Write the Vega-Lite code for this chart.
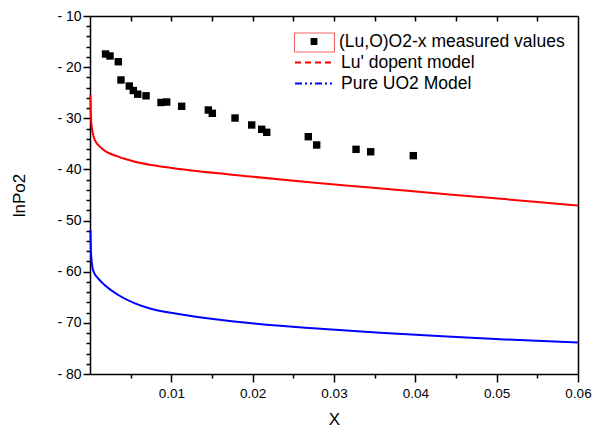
{
  "$schema": "https://vega.github.io/schema/vega-lite/v6.json",
  "width": 488,
  "height": 358,
  "autosize": {"type": "none"},
  "padding": {"left": 90, "top": 16, "right": 27, "bottom": 57},
  "config": {
    "font": "Liberation Sans",
    "view": {"stroke": null},
    "axis": {
      "grid": false,
      "domainColor": "black",
      "tickColor": "black",
      "labelColor": "black",
      "titleColor": "black",
      "domainWidth": 1.5,
      "tickWidth": 1.5,
      "labelFontSize": 13.5,
      "labelFont": "Liberation Sans",
      "titleFont": "Liberation Sans",
      "titleFontSize": 17,
      "titleFontWeight": "normal",
      "labelFlush": false,
      "labelOverlap": false
    },
    "legend": {
      "orient": "none",
      "title": null,
      "symbolSize": 1600,
      "clipHeight": 19,
      "labelLimit": 0,
      "labelFontSize": 17.5,
      "labelOffset": 5,
      "labelColor": "black",
      "labelFont": "Liberation Sans",
      "symbolOpacity": 1,
      "legendX": 204
    }
  },
  "datasets": {
    "measured": [
      {"x": 0.00191, "y": -17.43, "series": "(Lu,O)O2-x measured values", "kind": "box"},
      {"x": 0.00246, "y": -17.82, "series": "(Lu,O)O2-x measured values", "kind": "box"},
      {"x": 0.00348, "y": -18.94, "series": "(Lu,O)O2-x measured values", "kind": "box"},
      {"x": 0.00381, "y": -22.51, "series": "(Lu,O)O2-x measured values", "kind": "box"},
      {"x": 0.00483, "y": -23.69, "series": "(Lu,O)O2-x measured values", "kind": "box"},
      {"x": 0.00532, "y": -24.57, "series": "(Lu,O)O2-x measured values", "kind": "box"},
      {"x": 0.00587, "y": -25.29, "series": "(Lu,O)O2-x measured values", "kind": "box"},
      {"x": 0.00689, "y": -25.6, "series": "(Lu,O)O2-x measured values", "kind": "box"},
      {"x": 0.00873, "y": -26.91, "series": "(Lu,O)O2-x measured values", "kind": "box"},
      {"x": 0.00943, "y": -26.82, "series": "(Lu,O)O2-x measured values", "kind": "box"},
      {"x": 0.01127, "y": -27.66, "series": "(Lu,O)O2-x measured values", "kind": "box"},
      {"x": 0.01455, "y": -28.38, "series": "(Lu,O)O2-x measured values", "kind": "box"},
      {"x": 0.01504, "y": -29.03, "series": "(Lu,O)O2-x measured values", "kind": "box"},
      {"x": 0.01783, "y": -29.95, "series": "(Lu,O)O2-x measured values", "kind": "box"},
      {"x": 0.01988, "y": -31.31, "series": "(Lu,O)O2-x measured values", "kind": "box"},
      {"x": 0.02111, "y": -32.15, "series": "(Lu,O)O2-x measured values", "kind": "box"},
      {"x": 0.02173, "y": -32.74, "series": "(Lu,O)O2-x measured values", "kind": "box"},
      {"x": 0.02684, "y": -33.6, "series": "(Lu,O)O2-x measured values", "kind": "box"},
      {"x": 0.02787, "y": -35.22, "series": "(Lu,O)O2-x measured values", "kind": "box"},
      {"x": 0.03271, "y": -36.07, "series": "(Lu,O)O2-x measured values", "kind": "box"},
      {"x": 0.03451, "y": -36.55, "series": "(Lu,O)O2-x measured values", "kind": "box"},
      {"x": 0.03975, "y": -37.31, "series": "(Lu,O)O2-x measured values", "kind": "box"}
    ],
    "model": [
      {"x": 0.00006, "y": -25.45, "series": "Lu' dopent model"},
      {"x": 0.0001, "y": -29.0, "series": "Lu' dopent model"},
      {"x": 0.00021, "y": -31.65, "series": "Lu' dopent model"},
      {"x": 0.0006, "y": -34.25, "series": "Lu' dopent model"},
      {"x": 0.00144, "y": -35.87, "series": "Lu' dopent model"},
      {"x": 0.00348, "y": -37.51, "series": "Lu' dopent model"},
      {"x": 0.00553, "y": -38.49, "series": "Lu' dopent model"},
      {"x": 0.00759, "y": -39.14, "series": "Lu' dopent model"},
      {"x": 0.01127, "y": -39.98, "series": "Lu' dopent model"},
      {"x": 0.01967, "y": -41.38, "series": "Lu' dopent model"},
      {"x": 0.02668, "y": -42.46, "series": "Lu' dopent model"},
      {"x": 0.03443, "y": -43.54, "series": "Lu' dopent model"},
      {"x": 0.03971, "y": -44.28, "series": "Lu' dopent model"},
      {"x": 0.04795, "y": -45.39, "series": "Lu' dopent model"},
      {"x": 0.05779, "y": -46.76, "series": "Lu' dopent model"},
      {"x": 0.06, "y": -47.07, "series": "Lu' dopent model"},
      {"x": 0.00006, "y": -51.85, "series": "Pure UO2 Model"},
      {"x": 0.0001, "y": -55.5, "series": "Pure UO2 Model"},
      {"x": 0.00021, "y": -58.05, "series": "Pure UO2 Model"},
      {"x": 0.0004, "y": -59.8, "series": "Pure UO2 Model"},
      {"x": 0.001, "y": -61.3, "series": "Pure UO2 Model"},
      {"x": 0.0018, "y": -62.6, "series": "Pure UO2 Model"},
      {"x": 0.00348, "y": -64.55, "series": "Pure UO2 Model"},
      {"x": 0.00553, "y": -66.18, "series": "Pure UO2 Model"},
      {"x": 0.00759, "y": -67.29, "series": "Pure UO2 Model"},
      {"x": 0.01107, "y": -68.3, "series": "Pure UO2 Model"},
      {"x": 0.01512, "y": -69.25, "series": "Pure UO2 Model"},
      {"x": 0.0193, "y": -69.99, "series": "Pure UO2 Model"},
      {"x": 0.02336, "y": -70.58, "series": "Pure UO2 Model"},
      {"x": 0.02742, "y": -71.07, "series": "Pure UO2 Model"},
      {"x": 0.03566, "y": -71.95, "series": "Pure UO2 Model"},
      {"x": 0.0439, "y": -72.69, "series": "Pure UO2 Model"},
      {"x": 0.05201, "y": -73.32, "series": "Pure UO2 Model"},
      {"x": 0.06, "y": -73.86, "series": "Pure UO2 Model"}
    ]
  },
  "layer": [
    {
      "data": {"name": "measured"},
      "mark": {"type": "point", "shape": "square", "filled": true, "size": 55, "opacity": 1},
      "encoding": {
        "x": {
          "field": "x", "type": "quantitative",
          "scale": {"domain": [0, 0.06], "nice": false, "zero": false},
          "axis": {"orient": "bottom", "values": [0.01, 0.02, 0.03, 0.04, 0.05, 0.06], "format": ".2f", "tickSize": 8, "labelPadding": 4, "title": "X", "titlePadding": 12}
        },
        "y": {
          "field": "y", "type": "quantitative",
          "scale": {"domain": [-80, -10], "nice": false, "zero": false},
          "axis": {"orient": "left", "values": [-80, -70, -60, -50, -40, -30, -20, -10], "labelExpr": "'- ' + format(abs(datum.value), 'd')", "labelFontSize": 14, "tickSize": 7, "labelPadding": 2, "title": "lnPo2", "titlePadding": 28}
        },
        "color": {
          "field": "series", "type": "nominal",
          "scale": {"domain": ["(Lu,O)O2-x measured values"], "range": ["black"]},
          "legend": {"legendY": 16, "symbolType": "M-0.17,-0.17H0.17V0.17H-0.17Z", "symbolStrokeWidth": 0}
        },
        "opacity": {
          "field": "kind", "type": "ordinal",
          "scale": {"range": [1, 1]},
          "legend": {"legendY": 16, "labelExpr": "''", "symbolType": "M-1,-0.475H1V0.475H-1Z", "symbolFillColor": "transparent", "symbolStrokeColor": "#f06060", "symbolStrokeWidth": 1, "clipHeight": 21}
        }
      }
    },
    {
      "data": {"name": "model"},
      "transform": [{"filter": {"field": "series", "equal": "Lu' dopent model"}}],
      "mark": {"type": "line", "strokeWidth": 2, "interpolate": "monotone"},
      "encoding": {
        "x": {
          "field": "x", "type": "quantitative",
          "axis": {"orient": "bottom", "values": [0.005, 0.015, 0.025, 0.035, 0.045, 0.055], "tickSize": 4, "labels": false, "domain": false, "title": null}
        },
        "y": {
          "field": "y", "type": "quantitative",
          "axis": {"orient": "left", "values": [-78, -76, -74, -72, -68, -66, -64, -62, -58, -56, -54, -52, -48, -46, -44, -42, -38, -36, -34, -32, -28, -26, -24, -22, -18, -16, -14, -12], "tickSize": 4, "labels": false, "domain": false, "title": null}
        },
        "color": {
          "field": "series", "type": "nominal",
          "scale": {"domain": ["Lu' dopent model"], "range": ["red"]},
          "legend": {"legendY": 37, "symbolType": "stroke", "symbolDash": [6, 4], "symbolStrokeWidth": 2}
        }
      }
    },
    {
      "data": {"name": "model"},
      "transform": [{"filter": {"field": "series", "equal": "Pure UO2 Model"}}],
      "mark": {"type": "line", "strokeWidth": 2, "interpolate": "monotone"},
      "encoding": {
        "x": {
          "field": "x", "type": "quantitative",
          "axis": {"orient": "top", "values": [0.005, 0.01, 0.015, 0.02, 0.025, 0.03, 0.035, 0.04, 0.045, 0.05, 0.055], "tickSize": -5, "labels": false, "domain": true, "title": null}
        },
        "y": {
          "field": "y", "type": "quantitative",
          "axis": {"orient": "right", "ticks": false, "labels": false, "domain": true, "title": null}
        },
        "color": {
          "field": "series", "type": "nominal",
          "scale": {"domain": ["Pure UO2 Model"], "range": ["blue"]},
          "legend": {"legendY": 58, "symbolType": "stroke", "symbolDash": [7, 3, 2, 3, 2, 3], "symbolStrokeWidth": 2}
        }
      }
    }
  ],
  "resolve": {
    "axis": {"x": "independent", "y": "independent"},
    "scale": {"color": "independent"},
    "legend": {"color": "independent"}
  }
}
